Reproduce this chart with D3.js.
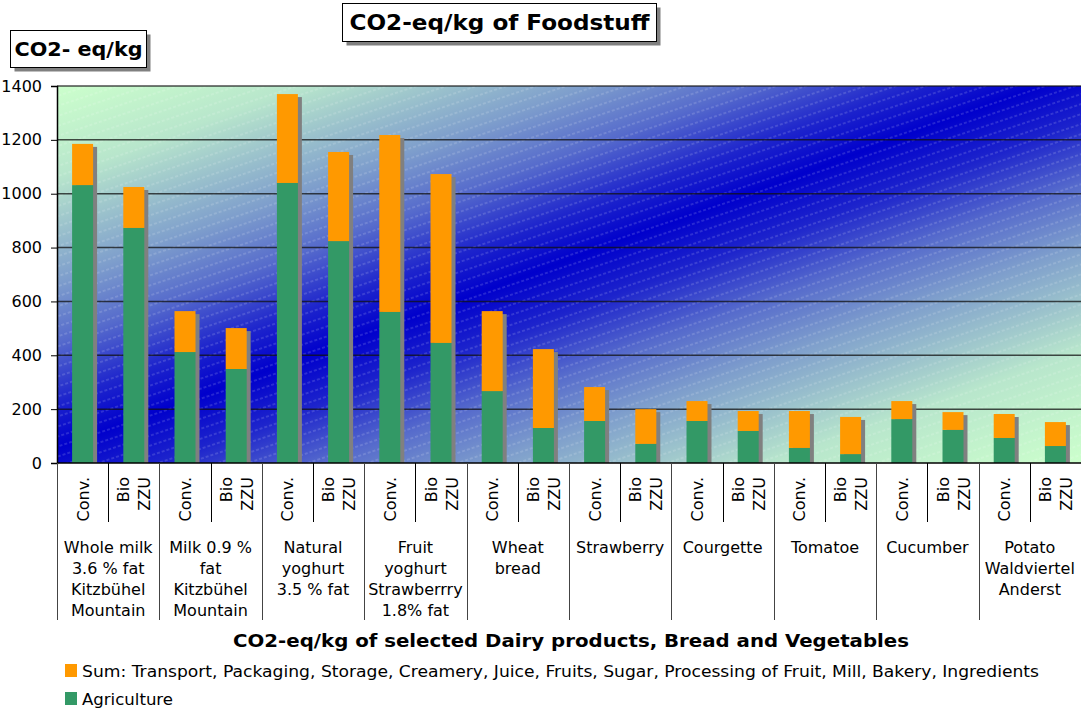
<!DOCTYPE html>
<html>
<head>
<meta charset="utf-8">
<script src="https://cdn.jsdelivr.net/npm/d3@7"></script>
<style>
  body { margin: 0; background: #fff; }
  svg { display: block; font-family: "DejaVu Sans", Verdana, sans-serif; }
</style>
</head>
<body>
<svg id="chart" width="1081" height="711"></svg>
<script>
// data
const groups = [
  ["Whole milk", "3.6 % fat", "Kitzbühel", "Mountain"],
  ["Milk 0.9 %", "fat", "Kitzbühel", "Mountain"],
  ["Natural", "yoghurt", "3.5 % fat"],
  ["Fruit", "yoghurt", "Strawberrry", "1.8% fat"],
  ["Wheat", "bread"],
  ["Strawberry"],
  ["Courgette"],
  ["Tomatoe"],
  ["Cucumber"],
  ["Potato", "Waldviertel", "Anderst"]
];
const kinds = [["Conv."], ["Bio", "ZZU"]];
const agriculture = [1032, 873, 412, 349, 1040, 824, 561, 446, 267, 130, 156, 71, 156, 119, 56, 33, 163, 123, 93, 63];
const otherSum    = [153, 152, 152, 152, 330, 331, 657, 627, 297, 293, 126, 129, 74, 74, 137, 138, 67, 66, 89, 89];
const yTicks = [0, 200, 400, 600, 800, 1000, 1200, 1400];
const seriesNames = [
  "Sum: Transport, Packaging, Storage, Creamery, Juice, Fruits, Sugar, Processing of Fruit, Mill, Bakery, Ingredients",
  "Agriculture"
];
const colors = { other: "#ff9900", agri: "#339966", shadow: "#808080" };

const svg = d3.select("#chart");
const plotL = 57, plotR = 1081, plotT = 86, plotB = 463;

const bars = agriculture.map((a, i) => ({ i, agri: a, other: otherSum[i], total: a + otherSum[i] }));

const x = d3.scaleBand().domain(d3.range(bars.length)).range([plotL, plotR]).paddingInner(0.59).paddingOuter(0.295);
const y = d3.scaleLinear().domain([0, 1400]).range([plotB, plotT]);
const slotW = (plotR - plotL) / bars.length;

// background: diagonal green -> blue -> green
const defs = svg.append("defs");
const grad = defs.append("linearGradient").attr("id", "bg")
  .attr("x1", 0).attr("y1", 0).attr("x2", 1).attr("y2", 1);
const mix = d3.interpolateRgb("#ccffcc", "#0000cc");
[[0, 0], [0.12, 0.1], [0.26, 0.38], [0.34, 0.58], [0.42, 0.86], [0.48, 1],
 [0.55, 0.86], [0.63, 0.58], [0.71, 0.38], [0.85, 0.1], [1, 0]].forEach(([o, f]) => {
  grad.append("stop").attr("offset", o).attr("stop-color", mix(f));
});

const pat = defs.append("pattern").attr("id", "hatch")
  .attr("patternUnits", "userSpaceOnUse").attr("width", 40).attr("height", 9.5)
  .attr("patternTransform", "rotate(-18.5)");
pat.append("line").attr("x1", 0).attr("x2", 40).attr("y1", 4.75).attr("y2", 4.75)
  .attr("stroke", "#fff").attr("stroke-opacity", 0.28).attr("stroke-width", 1)
  .attr("stroke-dasharray", "3,2");

svg.append("rect").attr("x", plotL).attr("y", plotT).attr("width", plotR - plotL).attr("height", plotB - plotT)
  .attr("fill", "url(#bg)");
svg.append("rect").attr("x", plotL).attr("y", plotT).attr("width", plotR - plotL).attr("height", plotB - plotT)
  .attr("fill", "url(#hatch)");

// gridlines
svg.append("g").selectAll("line").data(yTicks.slice(1)).join("line")
  .attr("x1", plotL).attr("x2", plotR)
  .attr("y1", d => y(d)).attr("y2", d => y(d))
  .attr("stroke", "#111").attr("stroke-opacity", 0.75).attr("stroke-width", 1.5);

// shadows
svg.append("g").selectAll("rect").data(bars).join("rect")
  .attr("x", d => x(d.i) + 4).attr("width", x.bandwidth())
  .attr("y", d => y(d.total) + 3).attr("height", d => plotB - y(d.total) - 3)
  .attr("fill", colors.shadow);

// stacked bars
svg.append("g").selectAll("rect").data(bars).join("rect")
  .attr("x", d => x(d.i)).attr("width", x.bandwidth())
  .attr("y", d => y(d.agri)).attr("height", d => plotB - y(d.agri))
  .attr("fill", colors.agri);
svg.append("g").selectAll("rect").data(bars).join("rect")
  .attr("x", d => x(d.i)).attr("width", x.bandwidth())
  .attr("y", d => y(d.total)).attr("height", d => y(d.agri) - y(d.total))
  .attr("fill", colors.other);

// y axis
const yAxis = svg.append("g").attr("transform", `translate(${plotL},0)`)
  .call(d3.axisLeft(y).tickValues(yTicks).tickFormat(d3.format("d")).tickSize(6).tickPadding(9));
yAxis.select(".domain").attr("stroke", "#000").attr("stroke-width", 1.5);
yAxis.selectAll("text").attr("font-size", 16).attr("fill", "#000")
  .style("font-family", '"DejaVu Sans", Verdana, sans-serif');

// x axis baseline
svg.append("line").attr("x1", plotL).attr("x2", plotR).attr("y1", plotB).attr("y2", plotB)
  .attr("stroke", "#000").attr("stroke-width", 1.5);

// category separators
const sep = svg.append("g");
d3.range(bars.length).forEach(k => {
  const xx = Math.round(plotL + k * slotW) + 0.5;
  sep.append("line").attr("x1", xx).attr("x2", xx).attr("y1", plotB)
    .attr("y2", k % 2 === 0 ? 620 : 522)
    .attr("stroke", k % 2 === 0 ? "#444" : "#000").attr("stroke-width", 1);
});

// sub labels (rotated)
bars.forEach(d => {
  const cx = plotL + (d.i + 0.5) * slotW;
  const lines = kinds[d.i % 2];
  const t = svg.append("text")
    .attr("transform", `translate(${cx},477) rotate(-90)`)
    .attr("text-anchor", "end").attr("font-size", 16).attr("fill", "#000");
  lines.forEach((ln, j) => {
    t.append("tspan").attr("x", 0)
      .attr("y", (j - (lines.length - 1) / 2) * 21 + 6)
      .text(ln);
  });
});

// group labels
groups.forEach((g, gi) => {
  const cx = plotL + (gi + 0.5) * 2 * slotW;
  const t = svg.append("text").attr("text-anchor", "middle").attr("font-size", 16).attr("fill", "#000");
  g.forEach((ln, j) => {
    t.append("tspan").attr("x", cx).attr("y", 553 + j * 21).text(ln);
  });
});

// title boxes
function box(x0, y0, w, h, label, size, len) {
  svg.append("rect").attr("x", x0 + 4).attr("y", y0 + 4).attr("width", w).attr("height", h).attr("fill", "#808080");
  svg.append("rect").attr("x", x0).attr("y", y0).attr("width", w).attr("height", h)
    .attr("fill", "#fff").attr("stroke", "#000").attr("stroke-width", 1);
  svg.append("text").attr("x", x0 + w / 2).attr("y", y0 + h / 2 + size * 0.36)
    .attr("text-anchor", "middle").attr("font-weight", "bold").attr("font-size", size)
    .attr("textLength", len).attr("lengthAdjust", "spacingAndGlyphs").text(label);
}
box(342.5, 3.5, 314, 38, "CO2-eq/kg of Foodstuff", 22, 300);
box(10.5, 30.5, 136, 37, "CO2- eq/kg", 19, 128);

// x title
svg.append("text").attr("x", 571).attr("y", 647).attr("text-anchor", "middle")
  .attr("font-weight", "bold").attr("font-size", 18.5)
  .attr("textLength", 676).attr("lengthAdjust", "spacingAndGlyphs")
  .text("CO2-eq/kg of selected Dairy products, Bread and Vegetables");

// legend
const leg = svg.append("g");
[colors.other, colors.agri].forEach((c, i) => {
  leg.append("rect").attr("x", 65).attr("y", 664 + i * 28).attr("width", 12).attr("height", 13).attr("fill", c);
  leg.append("text").attr("x", 82).attr("y", 677 + i * 28).attr("font-size", 16)
    .attr("textLength", i === 0 ? 957 : 91).attr("lengthAdjust", "spacingAndGlyphs")
    .text(seriesNames[i]);
});
</script>
</body>
</html>
